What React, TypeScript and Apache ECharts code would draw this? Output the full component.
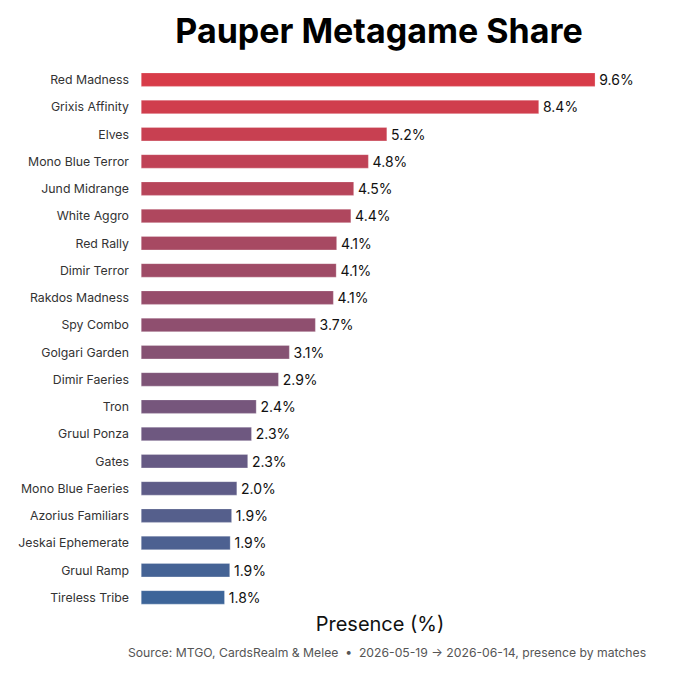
import React, { useEffect, useRef } from "react";
import * as echarts from "echarts";

const categories = [
  "Red Madness",
  "Grixis Affinity",
  "Elves",
  "Mono Blue Terror",
  "Jund Midrange",
  "White Aggro",
  "Red Rally",
  "Dimir Terror",
  "Rakdos Madness",
  "Spy Combo",
  "Golgari Garden",
  "Dimir Faeries",
  "Tron",
  "Gruul Ponza",
  "Gates",
  "Mono Blue Faeries",
  "Azorius Familiars",
  "Jeskai Ephemerate",
  "Gruul Ramp",
  "Tireless Tribe",
];
const presence = [9.6, 8.41, 5.2, 4.81, 4.5, 4.44, 4.14, 4.13, 4.07, 3.69, 3.14, 2.91, 2.44, 2.34, 2.26, 2.03, 1.92, 1.89, 1.88, 1.77];

const TITLE = "Pauper Metagame Share";
const X_LABEL = "Presence (%)";
const FOOTER = "Source: MTGO, CardsRealm & Melee  \u2022  2026-05-19 \u2192 2026-06-14, presence by matches";

const START = [216, 60, 73];
const END = [61, 101, 153];
function colorAt(i: number, n: number) {
  const t = n > 1 ? i / (n - 1) : 0;
  const c = START.map((s, k) => Math.round(s + (END[k] - s) * t));
  return `rgb(${c[0]},${c[1]},${c[2]})`;
}

export default function App() {
  const ref = useRef<HTMLDivElement>(null);
  useEffect(() => {
    if (!ref.current) return;
    const chart = echarts.init(ref.current, undefined, { renderer: "svg" });
    const font = "Inter, 'Noto Sans', sans-serif";
    chart.setOption({
      animation: false,
      backgroundColor: "#ffffff",
      textStyle: { fontFamily: font },
      title: [
        {
          text: TITLE,
          left: 379,
          top: 13,
          padding: 0,
          textAlign: "center",
          textStyle: { fontFamily: font, fontSize: 34, fontWeight: "bold", color: "#000" },
        },
        {
          text: X_LABEL,
          left: 380,
          top: 614,
          padding: 0,
          textAlign: "center",
          textStyle: { fontFamily: font, fontSize: 20, fontWeight: "normal", color: "#111" },
        },
        {
          text: FOOTER,
          left: 387,
          top: 646,
          padding: 0,
          textAlign: "center",
          textStyle: { fontFamily: font, fontSize: 12.2, fontWeight: "normal", color: "#555" },
        },
      ],
      grid: { left: 141, top: 66, width: 477, height: 545, containLabel: false },
      xAxis: { type: "value", min: 0, max: 10.08, show: false },
      yAxis: {
        type: "category",
        data: categories,
        inverse: true,
        axisLine: { show: false },
        axisTick: { show: false },
        axisLabel: { fontFamily: font, fontSize: 12.3, color: "#333", margin: 12 },
      },
      series: [
        {
          type: "bar",
          barWidth: 14,
          data: presence.map((v, i) => ({
            value: v,
            itemStyle: { color: colorAt(i, presence.length) },
          })),
          itemStyle: { borderColor: "rgba(255,255,255,0.5)", borderWidth: 0.5 },
          label: {
            show: true,
            position: "right",
            distance: 4,
            fontFamily: font,
            fontSize: 14,
            color: "#111",
            formatter: (p: any) => `${Number(p.value).toFixed(1)}%`,
          },
        },
      ],
    });
    return () => chart.dispose();
  }, []);
  return <div ref={ref} style={{ position: "fixed", left: 0, top: 0, width: 680, height: 680 }} />;
}
